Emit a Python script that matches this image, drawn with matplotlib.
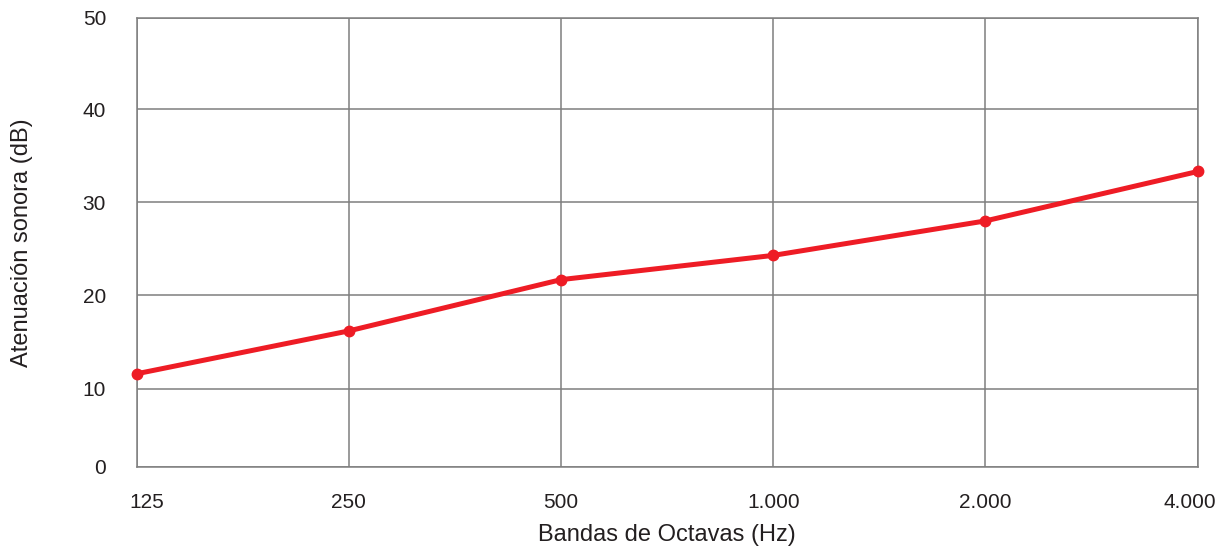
import matplotlib.pyplot as plt
import matplotlib.transforms as mtransforms

# Octave bands and measured attenuation
bands = ["125", "250", "500", "1.000", "2.000", "4.000"]
attenuation = [11.6, 16.2, 21.7, 24.3, 28.0, 33.3]

y_ticks = [10, 20, 30, 40]
y_labels_inner = ["10", "20", "30", "40"]
y_bottom, y_top = 1.6, 49.8

plt.rcParams["font.family"] = ["Liberation Sans", "DejaVu Sans"]

fig = plt.figure(figsize=(12.19, 5.46), dpi=100)
ax = fig.add_axes([0.1121, 0.1447, 0.8704, 0.8229])

x = list(range(len(bands)))
ax.plot(x, attenuation, color="#ee1c25", linewidth=3.6, marker="o",
        markersize=7.5, solid_capstyle="round", zorder=3, clip_on=False)

ax.set_xlim(0, len(bands) - 1)
ax.set_ylim(y_bottom, y_top)

ax.set_xticks(x)
ax.set_xticklabels(bands, fontsize=15)
# frame edges carry the 0 and 50 labels, as in the original
ax.set_yticks([y_bottom] + y_ticks + [y_top])
ax.set_yticklabels(["0"] + y_labels_inner + ["50"], fontsize=15)
ax.tick_params(axis="x", length=0, pad=19, colors="#231f20")
ax.tick_params(axis="y", length=0, pad=22, colors="#231f20")

# nudge the edge x labels inwards
labels = ax.get_xticklabels()
labels[0].set_transform(labels[0].get_transform() +
                        mtransforms.ScaledTranslation(0.1, 0, fig.dpi_scale_trans))
labels[-1].set_transform(labels[-1].get_transform() +
                         mtransforms.ScaledTranslation(-0.08, 0, fig.dpi_scale_trans))

ax.grid(True, color="#7f7f7f", linewidth=1.1)
ax.set_axisbelow(True)
for spine in ax.spines.values():
    spine.set_color("#7f7f7f")
    spine.set_linewidth(1.1)

ax.set_xlabel("Bandas de Octavas (Hz)", fontsize=17, color="#231f20", va="center")
ax.xaxis.set_label_coords(0.5, -0.151)
ax.set_ylabel("Atenuación sonora (dB)", fontsize=17, color="#231f20", va="center")
ax.yaxis.set_label_coords(-0.108, 0.5)

fig.savefig("out.png", dpi=100)
